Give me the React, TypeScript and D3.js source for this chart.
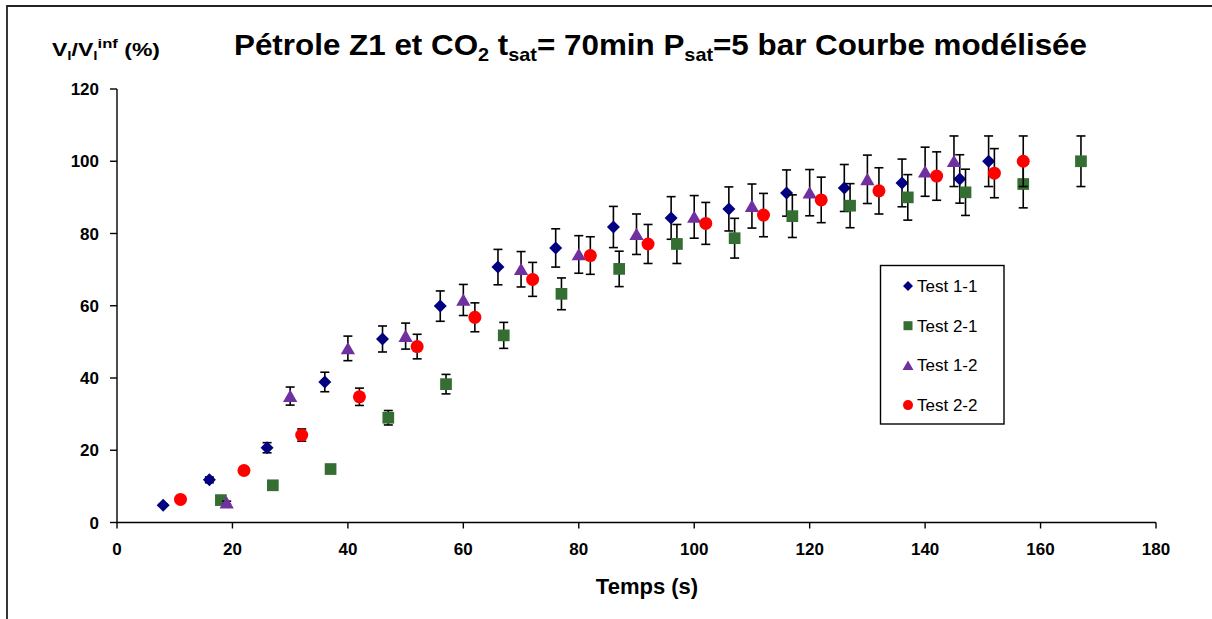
import React from "react";
import * as d3 from "d3";

// series: x = time (s), y = Vl/Vl_inf (%), err = error bar half-height
const t11 = [8, 16, 26, 36, 46, 56, 66, 76, 86, 96, 106, 116, 126, 136, 146, 151];
const v11 = [4.8, 11.8, 20.7, 38.9, 50.8, 59.9, 70.7, 76.0, 81.8, 84.3, 86.8, 91.2, 92.6, 94.0, 95.1, 100];
const e11 = [0.3, 0.8, 1.4, 2.7, 3.6, 4.2, 4.9, 5.3, 5.7, 5.9, 6.1, 6.4, 6.5, 6.6, 6.7, 7.0];

const t21 = [18, 27, 37, 47, 57, 67, 77, 87, 97, 107, 117, 127, 137, 147, 157, 167];
const v21 = [6.2, 10.3, 14.8, 29.0, 38.3, 51.8, 63.3, 70.2, 77.1, 78.7, 84.8, 87.7, 90.0, 91.4, 93.7, 100];
const e21 = [0.4, 0.7, 1.0, 2.0, 2.7, 3.6, 4.4, 4.9, 5.4, 5.5, 5.9, 6.1, 6.3, 6.4, 6.6, 7.0];

const t12 = [19, 30, 40, 50, 60, 70, 80, 90, 100, 110, 120, 130, 140, 145];
const v12 = [5.5, 35.0, 48.2, 51.6, 61.6, 70.1, 74.2, 79.8, 84.6, 87.6, 91.3, 95.0, 97.1, 100];
const e12 = [0.4, 2.5, 3.4, 3.6, 4.3, 4.9, 5.2, 5.6, 5.9, 6.1, 6.4, 6.7, 6.8, 7.0];

const t22 = [11, 22, 32, 42, 52, 62, 72, 82, 92, 102, 112, 122, 132, 142, 152, 157];
const v22 = [6.4, 14.4, 24.2, 34.8, 48.7, 56.8, 67.3, 73.9, 77.1, 82.8, 85.1, 89.3, 91.8, 95.9, 96.7, 100];
const e22 = [0.4, 1.0, 1.7, 2.4, 3.4, 4.0, 4.7, 5.2, 5.4, 5.8, 6.0, 6.3, 6.4, 6.7, 6.8, 7.0];

const xTicks = [0, 20, 40, 60, 80, 100, 120, 140, 160, 180];
const yTicks = [0, 20, 40, 60, 80, 100, 120];

const FONT = "'Liberation Sans', Arial, sans-serif";

type Shape = "diamond" | "square" | "triangle" | "circle";

const series = [
  { name: "Test 1-1", t: t11, v: v11, e: e11, color: "#000080", shape: "diamond" as Shape },
  { name: "Test 2-1", t: t21, v: v21, e: e21, color: "#356e32", shape: "square" as Shape },
  { name: "Test 1-2", t: t12, v: v12, e: e12, color: "#7030a0", shape: "triangle" as Shape },
  { name: "Test 2-2", t: t22, v: v22, e: e22, color: "#ff0000", shape: "circle" as Shape },
];

function Marker({ shape, x, y, color, size }: { shape: Shape; x: number; y: number; color: string; size: number }) {
  const h = size / 2;
  if (shape === "diamond")
    return <path d={`M${x},${y - h}L${x + h},${y}L${x},${y + h}L${x - h},${y}Z`} fill={color} />;
  if (shape === "square")
    return <rect x={x - h * 0.9} y={y - h * 0.9} width={size * 0.9} height={size * 0.9} fill={color} />;
  if (shape === "triangle")
    return <path d={`M${x},${y - h}L${x + h * 1.1},${y + h * 0.9}L${x - h * 1.1},${y + h * 0.9}Z`} fill={color} />;
  return <circle cx={x} cy={y} r={h} fill={color} />;
}

export default function App() {
  const width = 1212;
  const height = 619;
  const x = d3.scaleLinear().domain([0, 180]).range([117, 1156]);
  const y = d3.scaleLinear().domain([0, 120]).range([522.5, 89]);

  return (
    <svg
      width={width}
      height={height}
      style={{ position: "absolute", left: 0, top: 0, display: "block", background: "#fff" }}
      fontFamily={FONT}
    >
      {/* outer frame */}
      <path d={`M7,${height + 2}V6H${width + 2}`} fill="none" stroke="#222" strokeWidth={1.8} />

      {/* title */}
      <text x={234} y={55} fontSize={30} fontWeight="bold" fill="#000" textLength={853} lengthAdjust="spacingAndGlyphs">
        Pétrole Z1 et CO<tspan fontSize={19} dy={6}>2</tspan>
        <tspan dy={-6}> t</tspan>
        <tspan fontSize={19} dy={6}>sat</tspan>
        <tspan dy={-6}>= 70min P</tspan>
        <tspan fontSize={19} dy={6}>sat</tspan>
        <tspan dy={-6}>=5 bar Courbe modélisée</tspan>
      </text>

      {/* y label */}
      <text x={52} y={56} fontSize={18} fontWeight="bold" fill="#000" textLength={108} lengthAdjust="spacingAndGlyphs">
        V<tspan fontSize={12} dy={4}>l</tspan>
        <tspan dy={-4}>/V</tspan>
        <tspan fontSize={12} dy={4}>l</tspan>
        <tspan fontSize={13} dy={-12}>inf</tspan>
        <tspan dy={8}> (%)</tspan>
      </text>

      {/* axes */}
      <line x1={x(0)} x2={x(180)} y1={y(0)} y2={y(0)} stroke="#000" strokeWidth={1.4} />
      <line x1={x(0)} x2={x(0)} y1={y(0)} y2={y(120)} stroke="#000" strokeWidth={1.4} />
      {xTicks.map(t => (
        <g key={`xt${t}`}>
          <line x1={x(t)} x2={x(t)} y1={y(0)} y2={y(0) + 6} stroke="#000" strokeWidth={1.4} />
          <text x={x(t)} y={555} textAnchor="middle" fontSize={17} fontWeight="bold">
            {t}
          </text>
        </g>
      ))}
      {yTicks.map(t => (
        <g key={`yt${t}`}>
          <line x1={x(0) - 7} x2={x(0)} y1={y(t)} y2={y(t)} stroke="#000" strokeWidth={1.4} />
          <text x={99} y={y(t) + 6} textAnchor="end" fontSize={17} fontWeight="bold">
            {t}
          </text>
        </g>
      ))}

      {/* x label */}
      <text x={647} y={594} textAnchor="middle" fontSize={22} fontWeight="bold">
        Temps (s)
      </text>

      {/* series with error bars */}
      {series.map(s => (
        <g key={s.name}>
          {s.t.map((t, i) => {
            const cx = x(t);
            const lo = y(s.v[i] - s.e[i]);
            const hi = y(s.v[i] + s.e[i]);
            return (
              <g key={i} stroke="#000" strokeWidth={1.6}>
                <line x1={cx} x2={cx} y1={lo} y2={hi} />
                <line x1={cx - 4.5} x2={cx + 4.5} y1={lo} y2={lo} />
                <line x1={cx - 4.5} x2={cx + 4.5} y1={hi} y2={hi} />
              </g>
            );
          })}
          {s.t.map((t, i) => (
            <Marker key={`m${i}`} shape={s.shape} x={x(t)} y={y(s.v[i])} color={s.color} size={13} />
          ))}
        </g>
      ))}

      {/* legend */}
      <rect x={880.5} y={265.5} width={123.5} height={158.5} fill="#fff" stroke="#000" strokeWidth={1.4} />
      {series.map((s, i) => (
        <g key={`lg${s.name}`}>
          <Marker shape={s.shape} x={908} y={286 + i * 39.7} color={s.color} size={10} />
          <text x={917} y={286 + i * 39.7 + 6} fontSize={17}>
            {s.name}
          </text>
        </g>
      ))}
    </svg>
  );
}
